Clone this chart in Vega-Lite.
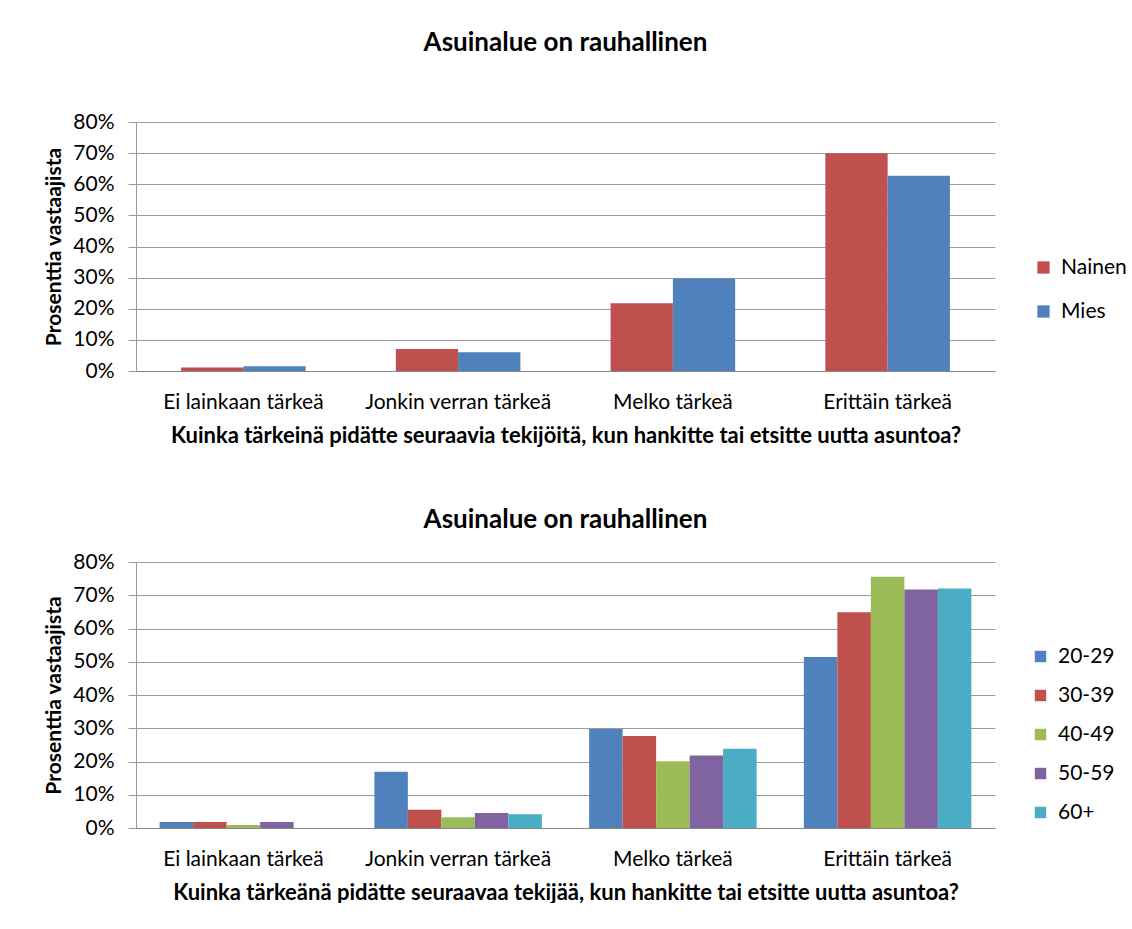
{
  "$schema": "https://vega.github.io/schema/vega-lite/v6.json",
  "background": "white",
  "padding": {"left": 43, "top": 30, "right": 0, "bottom": 0},
  "autosize": {"type": "pad"},
  "spacing": 61,
  "resolve": {
    "scale": {"color": "independent", "xOffset": "independent", "x": "independent", "y": "independent"},
    "legend": {"color": "independent"}
  },
  "config": {
    "font": "Lato",
    "view": {"stroke": null},
    "axis": {
      "labelFont": "Lato",
      "titleFont": "Lato",
      "labelColor": "#000000",
      "titleColor": "#000000",
      "labelFontSize": 21,
      "titleFontSize": 21,
      "titleFontWeight": "bold",
      "labelLimit": 400
    },
    "axisX": {
      "labelAngle": 0,
      "ticks": false,
      "labelPadding": 20,
      "titlePadding": 13,
      "titleFontSize": 22,
      "domainColor": "#868686",
      "domainWidth": 1
    },
    "axisY": {
      "grid": true,
      "gridColor": "#9a9a9a",
      "gridWidth": 1,
      "tickColor": "#9a9a9a",
      "tickSize": 8,
      "domainColor": "#9a9a9a",
      "labelPadding": 14,
      "titlePadding": 8
    },
    "legend": {
      "labelFont": "Lato",
      "labelFontSize": 21,
      "labelColor": "#000000",
      "symbolType": "square",
      "symbolStrokeWidth": 0,
      "labelOffset": 7
    },
    "title": {"font": "Lato", "fontSize": 26, "fontWeight": "bold", "color": "#000000", "anchor": "middle"}
  },
  "datasets": {
    "gender": [
      {"vastaus": "Ei lainkaan tärkeä", "ryhma": "Nainen", "osuus": 0.011},
      {"vastaus": "Ei lainkaan tärkeä", "ryhma": "Mies", "osuus": 0.015},
      {"vastaus": "Jonkin verran tärkeä", "ryhma": "Nainen", "osuus": 0.071},
      {"vastaus": "Jonkin verran tärkeä", "ryhma": "Mies", "osuus": 0.060},
      {"vastaus": "Melko tärkeä", "ryhma": "Nainen", "osuus": 0.218},
      {"vastaus": "Melko tärkeä", "ryhma": "Mies", "osuus": 0.297},
      {"vastaus": "Erittäin tärkeä", "ryhma": "Nainen", "osuus": 0.700},
      {"vastaus": "Erittäin tärkeä", "ryhma": "Mies", "osuus": 0.627}
    ],
    "age": [
      {"vastaus": "Ei lainkaan tärkeä", "ryhma": "20-29", "osuus": 0.018},
      {"vastaus": "Ei lainkaan tärkeä", "ryhma": "30-39", "osuus": 0.018},
      {"vastaus": "Ei lainkaan tärkeä", "ryhma": "40-49", "osuus": 0.009},
      {"vastaus": "Ei lainkaan tärkeä", "ryhma": "50-59", "osuus": 0.018},
      {"vastaus": "Ei lainkaan tärkeä", "ryhma": "60+", "osuus": 0.0},
      {"vastaus": "Jonkin verran tärkeä", "ryhma": "20-29", "osuus": 0.169},
      {"vastaus": "Jonkin verran tärkeä", "ryhma": "30-39", "osuus": 0.055},
      {"vastaus": "Jonkin verran tärkeä", "ryhma": "40-49", "osuus": 0.032},
      {"vastaus": "Jonkin verran tärkeä", "ryhma": "50-59", "osuus": 0.045},
      {"vastaus": "Jonkin verran tärkeä", "ryhma": "60+", "osuus": 0.041},
      {"vastaus": "Melko tärkeä", "ryhma": "20-29", "osuus": 0.298},
      {"vastaus": "Melko tärkeä", "ryhma": "30-39", "osuus": 0.277},
      {"vastaus": "Melko tärkeä", "ryhma": "40-49", "osuus": 0.201},
      {"vastaus": "Melko tärkeä", "ryhma": "50-59", "osuus": 0.218},
      {"vastaus": "Melko tärkeä", "ryhma": "60+", "osuus": 0.238},
      {"vastaus": "Erittäin tärkeä", "ryhma": "20-29", "osuus": 0.514},
      {"vastaus": "Erittäin tärkeä", "ryhma": "30-39", "osuus": 0.649},
      {"vastaus": "Erittäin tärkeä", "ryhma": "40-49", "osuus": 0.756},
      {"vastaus": "Erittäin tärkeä", "ryhma": "50-59", "osuus": 0.717},
      {"vastaus": "Erittäin tärkeä", "ryhma": "60+", "osuus": 0.720}
    ]
  },
  "vconcat": [
    {
      "data": {"name": "gender"},
      "title": {"text": "Asuinalue on rauhallinen", "offset": 55},
      "width": 859,
      "height": 249,
      "mark": {"type": "bar"},
      "encoding": {
        "x": {
          "field": "vastaus",
          "type": "nominal",
          "sort": ["Ei lainkaan tärkeä", "Jonkin verran tärkeä", "Melko tärkeä", "Erittäin tärkeä"],
          "scale": {"paddingInner": 0.42, "paddingOuter": 0.21},
          "axis": {"title": "Kuinka tärkeinä pidätte seuraavia tekijöitä, kun hankitte tai etsitte uutta asuntoa?"}
        },
        "xOffset": {
          "field": "ryhma",
          "type": "nominal",
          "sort": ["Nainen", "Mies"],
          "scale": {"paddingInner": 0, "paddingOuter": 0}
        },
        "y": {
          "field": "osuus",
          "type": "quantitative",
          "scale": {"domain": [0, 0.8]},
          "axis": {
            "title": "Prosenttia vastaajista",
            "values": [0, 0.1, 0.2, 0.3, 0.4, 0.5, 0.6, 0.7, 0.8],
            "format": ".0%"
          }
        },
        "color": {
          "field": "ryhma",
          "type": "nominal",
          "scale": {"domain": ["Nainen", "Mies"], "range": ["#C0504D", "#4F81BD"]},
          "legend": {"title": null, "orient": "none", "legendX": 897, "legendY": 135, "symbolSize": 150, "rowPadding": 22}
        }
      }
    },
    {
      "data": {"name": "age"},
      "title": {"text": "Asuinalue on rauhallinen", "offset": 18},
      "width": 859,
      "height": 266,
      "mark": {"type": "bar"},
      "encoding": {
        "x": {
          "field": "vastaus",
          "type": "nominal",
          "sort": ["Ei lainkaan tärkeä", "Jonkin verran tärkeä", "Melko tärkeä", "Erittäin tärkeä"],
          "scale": {"paddingInner": 0.22, "paddingOuter": 0.11},
          "axis": {"title": "Kuinka tärkeänä pidätte seuraavaa tekijää, kun hankitte tai etsitte uutta asuntoa?"}
        },
        "xOffset": {
          "field": "ryhma",
          "type": "nominal",
          "sort": ["20-29", "30-39", "40-49", "50-59", "60+"],
          "scale": {"paddingInner": 0, "paddingOuter": 0}
        },
        "y": {
          "field": "osuus",
          "type": "quantitative",
          "scale": {"domain": [0, 0.8]},
          "axis": {
            "title": "Prosenttia vastaajista",
            "values": [0, 0.1, 0.2, 0.3, 0.4, 0.5, 0.6, 0.7, 0.8],
            "format": ".0%"
          }
        },
        "color": {
          "field": "ryhma",
          "type": "nominal",
          "scale": {"domain": ["20-29", "30-39", "40-49", "50-59", "60+"], "range": ["#4F81BD", "#C0504D", "#9BBB59", "#8064A2", "#4BACC6"]},
          "legend": {"title": null, "orient": "none", "legendX": 894, "legendY": 84, "symbolSize": 130, "rowPadding": 17}
        }
      }
    }
  ]
}
